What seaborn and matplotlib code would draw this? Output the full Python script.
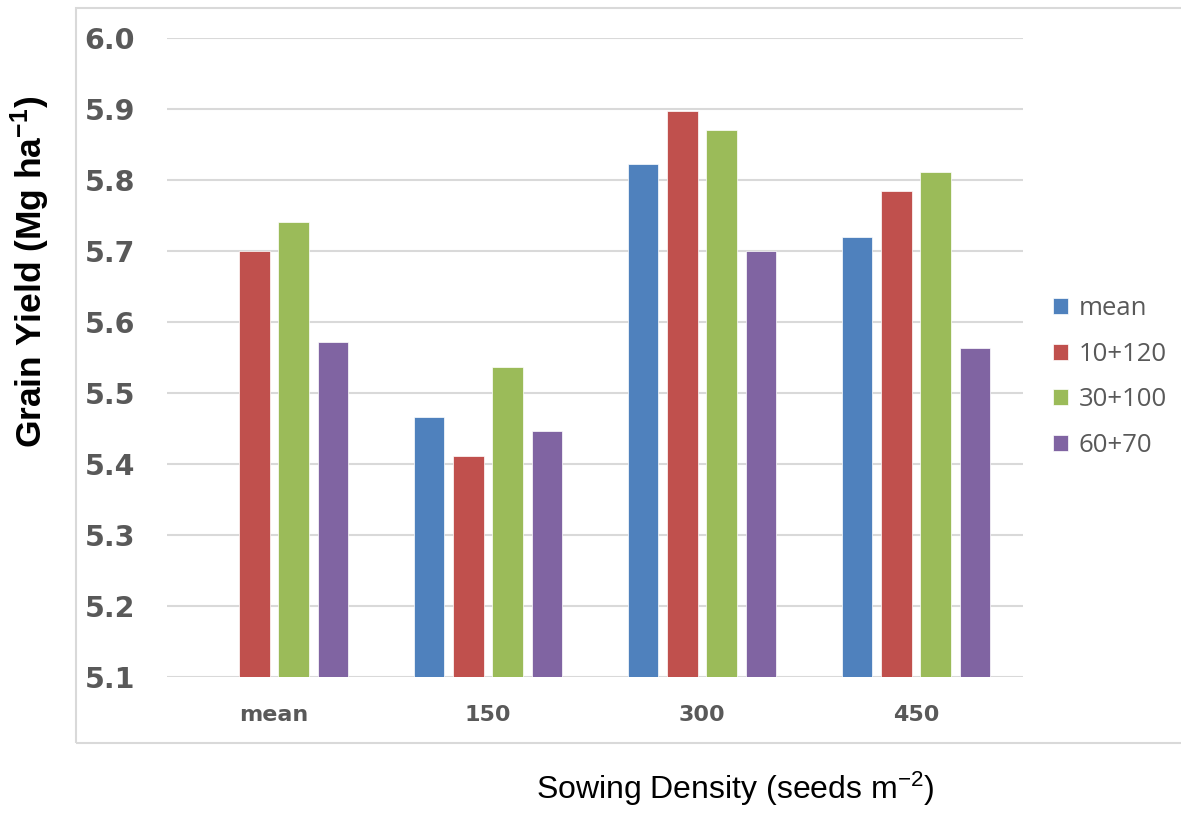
import numpy as np
import pandas as pd
import matplotlib
matplotlib.use("Agg")
import matplotlib.pyplot as plt
from matplotlib.patches import Rectangle
import seaborn as sns

# Sowing density groups and N-split treatments
densities = ["mean", "150", "300", "450"]
treatments = ["mean", "10+120", "30+100", "60+70"]

# Grain yield (Mg ha-1) per treatment, one list per density group
yield_mean = [np.nan, 5.700, 5.741, 5.572]
yield_150 = [5.466, 5.412, 5.537, 5.447]
yield_300 = [5.823, 5.898, 5.871, 5.700]
yield_450 = [5.720, 5.785, 5.812, 5.564]

y_ticks = [5.1, 5.2, 5.3, 5.4, 5.5, 5.6, 5.7, 5.8, 5.9, 6.0]
palette = ["#4F81BD", "#C0504D", "#9BBB59", "#8064A2"]

rows = []
for dens, vals in zip(densities, [yield_mean, yield_150, yield_300, yield_450]):
    for trt, v in zip(treatments, vals):
        rows.append({"density": dens, "treatment": trt, "yield": v})
df = pd.DataFrame(rows)

sns.set_theme(style="white")
plt.rcParams["font.family"] = ["DejaVu Sans"]
plt.rcParams["mathtext.default"] = "regular"

fig = plt.figure(figsize=(11.81, 8.13), dpi=100)
W, H = 1181, 813
ax = fig.add_axes([167 / W, 1 - 677 / H, 856 / W, (677 - 38.3) / H])

# Outer chart-area frame
fig.patches.append(Rectangle((76 / W, 1 - 742.5 / H), 1.2, (742.5 - 8) / H,
                             transform=fig.transFigure, fill=False,
                             edgecolor="#d9d9d9", linewidth=1.5, zorder=0))

sns.barplot(data=df, x="density", y="yield", hue="treatment",
            order=densities, hue_order=treatments, palette=palette,
            width=0.73, gap=0.23, saturation=1, errorbar=None,
            edgecolor="#ffffff", linewidth=0.5, ax=ax, legend=True)

ax.set_ylim(5.1, 6.0)
ax.set_xlim(-0.5, 3.5)
ax.set_yticks(y_ticks)
ax.set_yticklabels([f"{t:.1f}" for t in y_ticks], fontsize=20.5,
                   fontweight="bold", color="#595959")
ax.set_xticks(range(len(densities)))
ax.set_xticklabels(densities, fontsize=16, fontweight="bold",
                   color="#595959")
ax.tick_params(axis="y", length=0, pad=23)
ax.tick_params(axis="x", length=0, pad=20)
ax.yaxis.grid(True, color="#d9d9d9", linewidth=1.5)
ax.set_axisbelow(True)
for s in ax.spines.values():
    s.set_visible(False)

ax.set_xlabel("")
ax.set_ylabel("")
fig.text(735 / W, 1 - 799 / H, "Sowing Density (seeds m$^{-2}$)",
         fontsize=23, family="Liberation Sans", color="black",
         ha="center", va="baseline")
fig.text(30 / W, 1 - 272 / H, "Grain Yield (Mg ha$^{-1}$)",
         fontsize=25.5, family="Liberation Sans", fontweight="bold",
         color="black", rotation=90, ha="center", va="center")

handles, labels = ax.get_legend_handles_labels()
ax.legend_.remove()
leg = fig.legend(handles, labels, loc="center left",
                 bbox_to_anchor=(1053 / W, 1 - 377 / H),
                 frameon=False, borderpad=0, borderaxespad=0,
                 handlelength=0.6, handleheight=0.6, handletextpad=0.4,
                 labelspacing=0.8,
                 prop={"family": "Open Sans", "size": 18.5})
for t in leg.get_texts():
    t.set_color("#595959")

fig.savefig("out.png", dpi=100, facecolor="white")
